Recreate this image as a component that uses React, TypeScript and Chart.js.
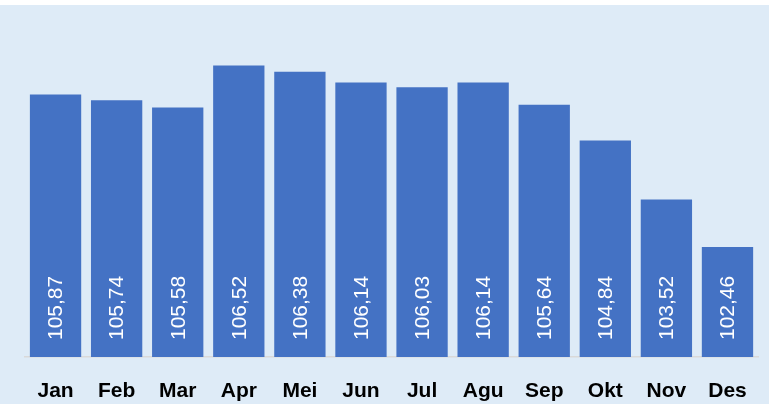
import React, { useEffect, useRef } from "react";
import { Chart, registerables } from "chart.js";

Chart.register(...registerables);

const categories = ["Jan", "Feb", "Mar", "Apr", "Mei", "Jun", "Jul", "Agu", "Sep", "Okt", "Nov", "Des"];
const values = [105.87, 105.74, 105.58, 106.52, 106.38, 106.14, 106.03, 106.14, 105.64, 104.84, 103.52, 102.46];
const labelTexts = ["105,87", "105,74", "105,58", "106,52", "106,38", "106,14", "106,03", "106,14", "105,64", "104,84", "103,52", "102,46"];

const valueLabelPlugin = {
  id: "valueLabels",
  afterDraw(chart: any) {
    const ctx = chart.ctx;
    const meta = chart.getDatasetMeta(0);
    const base = chart.scales.y.getPixelForValue(100);
    ctx.save();
    ctx.fillStyle = "#FFFFFF";
    ctx.font = "21px 'Liberation Sans', Arial, sans-serif";
    ctx.textAlign = "left";
    ctx.textBaseline = "middle";
    meta.data.forEach((bar: any, i: number) => {
      ctx.save();
      ctx.translate(bar.x + 1, base - 17);
      ctx.rotate(-Math.PI / 2);
      ctx.fillText(labelTexts[i], 0, 0);
      ctx.restore();
    });
    ctx.restore();
  },
};

export default function App() {
  const canvasRef = useRef<HTMLCanvasElement | null>(null);

  useEffect(() => {
    if (!canvasRef.current) return;
    const chart = new Chart(canvasRef.current, {
      type: "bar",
      data: {
        labels: categories,
        datasets: [
          {
            data: values,
            backgroundColor: "#4472C4",
            borderWidth: 0,
            barPercentage: 0.84,
            categoryPercentage: 1,
          },
        ],
      },
      options: {
        animation: false,
        responsive: false,
        maintainAspectRatio: false,
        layout: { padding: { left: 25, right: 6, top: 44, bottom: 0 } },
        plugins: {
          legend: { display: false },
          tooltip: { enabled: false },
          title: { display: false },
        },
        scales: {
          y: {
            display: false,
            min: 100,
            max: 107,
          },
          x: {
            grid: { display: false, drawTicks: false },
            border: { display: true, color: "#D9D9D9", width: 1.5 },
            afterFit: (scale: any) => {
              scale.height = 47;
            },
            ticks: {
              color: "#000000",
              padding: 22,
              font: { family: "'Liberation Sans', Arial, sans-serif", size: 21, weight: "bold" },
              maxRotation: 0,
              autoSkip: false,
            },
          },
        },
      },
      plugins: [valueLabelPlugin],
    });
    return () => chart.destroy();
  }, []);

  return (
    <div style={{ position: "fixed", left: 0, top: 0, width: 769, height: 404, background: "#FFFFFF" }}>
      <div style={{ position: "absolute", left: 0, top: 5, width: 769, height: 399, background: "#DEEBF7" }} />
      <canvas
        ref={canvasRef}
        width={769}
        height={404}
        style={{ position: "absolute", left: 0, top: 0, width: 769, height: 404 }}
      />
    </div>
  );
}
